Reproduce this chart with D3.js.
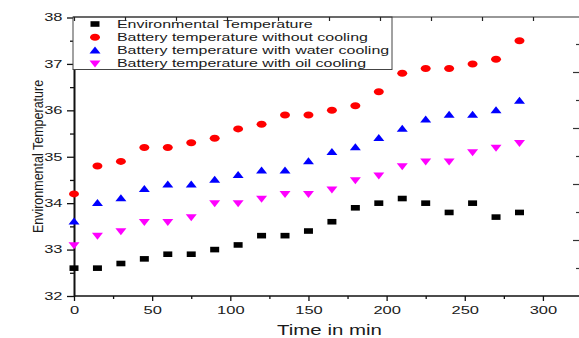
<!DOCTYPE html>
<html>
<head>
<meta charset="utf-8">
<script src="https://cdn.jsdelivr.net/npm/d3@7"></script>
<style>
  html, body { margin: 0; padding: 0; background: #fff; }
  svg { display: block; font-family: "Liberation Sans", Arial, sans-serif; }
</style>
</head>
<body>
<svg id="chart" width="579" height="338"></svg>
<script>
// Sampling times (min)
const times = [0, 15, 30, 45, 60, 75, 90, 105, 120, 135, 150, 165, 180, 195, 210, 225, 240, 255, 270, 285];

// Temperature series
const envTemp   = [32.6, 32.6, 32.7, 32.8, 32.9, 32.9, 33.0, 33.1, 33.3, 33.3, 33.4, 33.6, 33.9, 34.0, 34.1, 34.0, 33.8, 34.0, 33.7, 33.8];
const noCooling = [34.2, 34.8, 34.9, 35.2, 35.2, 35.3, 35.4, 35.6, 35.7, 35.9, 35.9, 36.0, 36.1, 36.4, 36.8, 36.9, 36.9, 37.0, 37.1, 37.5];
const waterCool = [33.6, 34.0, 34.1, 34.3, 34.4, 34.4, 34.5, 34.6, 34.7, 34.7, 34.9, 35.1, 35.2, 35.4, 35.6, 35.8, 35.9, 35.9, 36.0, 36.2];
const oilCool   = [33.1, 33.3, 33.4, 33.6, 33.6, 33.7, 34.0, 34.0, 34.1, 34.2, 34.2, 34.3, 34.5, 34.6, 34.8, 34.9, 34.9, 35.1, 35.2, 35.3];

const seriesNames = [
  "Environmental Temperature",
  "Battery temperature without cooling",
  "Battery temperature with water cooling",
  "Battery temperature with oil cooling"
];

// Axis ticks
const xMajorTicks = [0, 50, 100, 150, 200, 250, 300];
const xMinorTicks = [25, 75, 125, 175, 225, 275];
const yMajorTicks = [32, 33, 34, 35, 36, 37, 38];
const yMinorTicks = [32.5, 33.5, 34.5, 35.5, 36.5, 37.5];

const xTitle = "Time in min";
const yTitle = "Environmental Temperature";

const svg = d3.select("#chart");
svg.append("rect").attr("width", 579).attr("height", 338).attr("fill", "#fff");

const x = d3.scaleLinear().domain([0, 325]).range([74, 582]);
const y = d3.scaleLinear().domain([32, 38]).range([296, 17.5]);

const TEXT_SX = 1.6;   // wide glyph rendering for horizontal tick text
const axisColor = "#111";

// ---- bottom axis ----
const gx = svg.append("g").attr("transform", "translate(0,296)");
gx.call(d3.axisBottom(x).tickValues(xMajorTicks).tickSize(5).tickSizeOuter(0).tickFormat(d3.format("d")));
gx.append("g").call(d3.axisBottom(x).tickValues(xMinorTicks).tickSize(3).tickSizeOuter(0).tickFormat(""))
  .select(".domain").remove();
gx.select(".domain").attr("stroke", axisColor).attr("stroke-width", 1.4).attr("d", "M74,0H579");
gx.selectAll("line").attr("stroke", axisColor).attr("stroke-width", 1.3);
gx.selectAll("text")
  .attr("font-size", 10.3).attr("fill", "#1a1a1a").attr("font-family", "Liberation Sans, Arial")
  .attr("y", 17.8).attr("dy", "0")
  .attr("transform", `scale(${TEXT_SX},1)`);

// ---- left axis ----
const gy = svg.append("g").attr("transform", "translate(74,0)");
gy.call(d3.axisLeft(y).tickValues(yMajorTicks).tickSize(7).tickSizeOuter(0).tickFormat(d3.format("d")));
gy.append("g").call(d3.axisLeft(y).tickValues(yMinorTicks).tickSize(4).tickSizeOuter(0).tickFormat(""))
  .select(".domain").remove();
gy.select(".domain").attr("stroke", axisColor).attr("stroke-width", 2);
gy.selectAll("line").attr("stroke", axisColor).attr("stroke-width", 1.3);
gy.selectAll("text")
  .attr("font-size", 10.3).attr("fill", "#1a1a1a").attr("font-family", "Liberation Sans, Arial")
  .attr("x", -11.5 / TEXT_SX)
  .attr("transform", `scale(${TEXT_SX},1)`);

// ---- marker shapes (w x h ellipses, rects, triangles) ----
const shapes = {
  square:  (w, h) => `M${-w/2},${-h/2}h${w}v${h}h${-w}Z`,
  circle:  (w, h) => `M${-w/2},0a${w/2},${h/2} 0 1,0 ${w},0a${w/2},${h/2} 0 1,0 ${-w},0Z`,
  triUp:   (w, h) => `M0,${-h*0.6}L${w/2},${h*0.4}L${-w/2},${h*0.4}Z`,
  triDown: (w, h) => `M0,${h*0.6}L${w/2},${-h*0.4}L${-w/2},${-h*0.4}Z`
};

const series = [
  { name: seriesNames[0], values: envTemp,   color: "#000000", shape: "square",  w: 9,  h: 5.6 },
  { name: seriesNames[1], values: noCooling, color: "#ff0000", shape: "circle",  w: 10, h: 7 },
  { name: seriesNames[2], values: waterCool, color: "#0000ff", shape: "triUp",   w: 11, h: 7 },
  { name: seriesNames[3], values: oilCool,   color: "#ff00ff", shape: "triDown", w: 11, h: 7 }
];

// ---- data points ----
series.forEach(s => {
  svg.append("g").selectAll("path")
    .data(times.map((t, i) => [t, s.values[i]]))
    .join("path")
    .attr("transform", d => `translate(${x(d[0])},${y(d[1])})`)
    .attr("d", shapes[s.shape](s.w, s.h))
    .attr("fill", s.color);
});

// ---- legend ----
const leg = svg.append("g");
leg.append("rect")
  .attr("x", 73).attr("y", 17).attr("width", 319).attr("height", 52.5)
  .attr("fill", "#fff").attr("stroke", "#444").attr("stroke-width", 1);
const rowY = [24, 37.3, 50.6, 63.4];
series.forEach((s, i) => {
  leg.append("path")
    .attr("transform", `translate(95,${rowY[i]})`)
    .attr("d", shapes[s.shape](s.w, s.h))
    .attr("fill", s.color);
  leg.append("text")
    .attr("x", 117 / 1.52).attr("y", rowY[i] + 3.8)
    .attr("transform", "scale(1.52,1)")
    .attr("font-size", 10.5).attr("fill", "#1a1a1a")
    .text(s.name);
});

// ---- top frame line with ticks ----
const xTop = d3.scaleLinear().domain([0, 10]).range([74, 584]);
const gTop = svg.append("g").attr("transform", "translate(0,17)");
gTop.call(d3.axisBottom(xTop).tickValues(d3.range(0, 11)).tickSize(4).tickSizeOuter(0).tickFormat(""));
gTop.select(".domain").attr("stroke", "#333").attr("stroke-width", 1.1).attr("d", "M73,0H579");
gTop.selectAll("line").attr("stroke", "#222").attr("stroke-width", 1.2);

// ---- right edge ticks ----
const yRight = d3.scaleLinear().domain([0, 5]).range([296, 16]);
const gR = svg.append("g").attr("transform", "translate(579,0)");
gR.call(d3.axisLeft(yRight).tickValues(d3.range(1, 5)).tickSize(6).tickSizeOuter(0).tickFormat(""));
gR.append("g").call(d3.axisLeft(yRight).tickValues([0.5, 1.5, 2.5, 3.5, 4.5]).tickSize(3).tickSizeOuter(0).tickFormat(""));
gR.selectAll(".domain").remove();
gR.selectAll("line").attr("stroke", "#333").attr("stroke-width", 1.2);

// ---- axis titles ----
svg.append("text")
  .attr("x", 329.5 / 1.46).attr("y", 335)
  .attr("transform", "scale(1.46,1)")
  .attr("text-anchor", "middle")
  .attr("font-size", 14).attr("fill", "#1a1a1a")
  .text(xTitle);

svg.append("text")
  .attr("transform", "translate(42.5,156.5) scale(1.2,1) rotate(-90)")
  .attr("text-anchor", "middle")
  .attr("font-size", 12.5).attr("fill", "#1a1a1a")
  .text(yTitle);
</script>
</body>
</html>
